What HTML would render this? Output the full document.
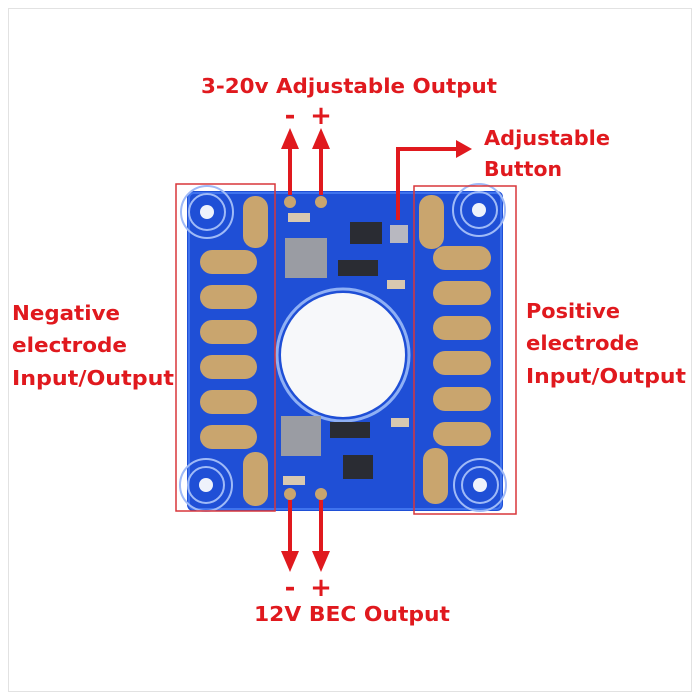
<!DOCTYPE html>
<html><head><style>
html,body{margin:0;padding:0;background:#fff;}
svg{display:block;}
text{font-family:"DejaVu Sans","Liberation Sans",sans-serif;fill:#e0191e;font-weight:bold;}
</style></head><body>
<svg width="700" height="700" viewBox="0 0 700 700" xmlns="http://www.w3.org/2000/svg">
<rect x="0" y="0" width="700" height="700" fill="#fff"/>
<rect x="8.5" y="8.5" width="683" height="683" fill="none" stroke="#e2e2e2"/>
<rect x="187" y="191" width="316" height="320" rx="6" fill="#1f4fd6"/>
<rect x="189" y="193" width="312" height="316" rx="5" fill="none" stroke="#3f73ee" stroke-width="2"/>
<circle cx="343" cy="355" r="66" fill="none" stroke="#8fb0f5" stroke-width="3"/>
<circle cx="343" cy="355" r="62" fill="#f7f8fa"/>
<g fill="none" stroke="#9fbaf7" stroke-width="2">
<circle cx="207" cy="212" r="18"/><circle cx="207" cy="212" r="26"/>
<circle cx="206" cy="485" r="18"/><circle cx="206" cy="485" r="26"/>
<circle cx="479" cy="210" r="18"/><circle cx="479" cy="210" r="26"/>
<circle cx="480" cy="485" r="18"/><circle cx="480" cy="485" r="26"/>
</g>
<g fill="#eef2fb"><circle cx="207" cy="212" r="7"/><circle cx="206" cy="485" r="7"/><circle cx="479" cy="210" r="7"/><circle cx="480" cy="485" r="7"/></g>
<g fill="#c9a56e">
<rect x="243" y="196" width="25" height="52" rx="12"/>
<rect x="243" y="452" width="25" height="54" rx="12"/>
<rect x="200" y="250" width="57" height="24" rx="12"/>
<rect x="200" y="285" width="57" height="24" rx="12"/>
<rect x="200" y="320" width="57" height="24" rx="12"/>
<rect x="200" y="355" width="57" height="24" rx="12"/>
<rect x="200" y="390" width="57" height="24" rx="12"/>
<rect x="200" y="425" width="57" height="24" rx="12"/>
<rect x="419" y="195" width="25" height="54" rx="12"/>
<rect x="423" y="448" width="25" height="56" rx="12"/>
<rect x="433" y="246" width="58" height="24" rx="12"/>
<rect x="433" y="281" width="58" height="24" rx="12"/>
<rect x="433" y="316" width="58" height="24" rx="12"/>
<rect x="433" y="351" width="58" height="24" rx="12"/>
<rect x="433" y="387" width="58" height="24" rx="12"/>
<rect x="433" y="422" width="58" height="24" rx="12"/>
<circle cx="290" cy="202" r="6"/><circle cx="321" cy="202" r="6"/>
<circle cx="290" cy="494" r="6"/><circle cx="321" cy="494" r="6"/>
</g>
<rect x="285" y="238" width="42" height="40" fill="#9a9ca3"/>
<rect x="281" y="416" width="40" height="40" fill="#9a9ca3"/>
<rect x="350" y="222" width="32" height="22" fill="#2a2c33"/>
<rect x="338" y="260" width="40" height="16" fill="#2a2c33"/>
<rect x="330" y="422" width="40" height="16" fill="#2a2c33"/>
<rect x="343" y="455" width="30" height="24" fill="#2a2c33"/>
<rect x="390" y="225" width="18" height="18" fill="#b8b8c0"/>
<rect x="288" y="213" width="22" height="9" fill="#d8c8b0"/>
<rect x="387" y="280" width="18" height="9" fill="#d8c8b0"/>
<rect x="391" y="418" width="18" height="9" fill="#d8c8b0"/>
<rect x="283" y="476" width="22" height="9" fill="#d8c8b0"/>
<g fill="none" stroke="#d9363a" stroke-width="1.5">
<rect x="176" y="184" width="99" height="327"/>
<rect x="414" y="186" width="102" height="328"/>
</g>
<g stroke="#e0191e" stroke-width="4" fill="none">
<line x1="290" y1="195" x2="290" y2="145"/>
<line x1="321" y1="195" x2="321" y2="145"/>
<polyline points="398,220 398,149 458,149"/>
<line x1="290" y1="500" x2="290" y2="555"/>
<line x1="321" y1="500" x2="321" y2="555"/>
</g>
<g fill="#e0191e">
<polygon points="281,149 299,149 290,128"/>
<polygon points="312,149 330,149 321,128"/>
<polygon points="456,140 456,158 472,149"/>
<polygon points="281,551 299,551 290,572"/>
<polygon points="312,551 330,551 321,572"/>
</g>
<text x="349" y="93" font-size="20" text-anchor="middle" textLength="296" lengthAdjust="spacingAndGlyphs">3-20v Adjustable Output</text>
<text x="290" y="124" font-size="26" text-anchor="middle">-</text>
<text x="321" y="124" font-size="26" text-anchor="middle">+</text>
<text x="484" y="145" font-size="20" textLength="126" lengthAdjust="spacingAndGlyphs">Adjustable</text>
<text x="484" y="176" font-size="20" textLength="78" lengthAdjust="spacingAndGlyphs">Button</text>
<text x="12" y="320" font-size="20" textLength="108" lengthAdjust="spacingAndGlyphs">Negative</text>
<text x="12" y="352" font-size="20" textLength="115" lengthAdjust="spacingAndGlyphs">electrode</text>
<text x="12" y="385" font-size="20" textLength="162" lengthAdjust="spacingAndGlyphs">Input/Output</text>
<text x="526" y="318" font-size="20" textLength="94" lengthAdjust="spacingAndGlyphs">Positive</text>
<text x="526" y="350" font-size="20" textLength="113" lengthAdjust="spacingAndGlyphs">electrode</text>
<text x="526" y="383" font-size="20" textLength="160" lengthAdjust="spacingAndGlyphs">Input/Output</text>
<text x="290" y="596" font-size="26" text-anchor="middle">-</text>
<text x="321" y="596" font-size="26" text-anchor="middle">+</text>
<text x="352" y="621" font-size="20" text-anchor="middle" textLength="196" lengthAdjust="spacingAndGlyphs">12V BEC Output</text>
</svg>
</body></html>
